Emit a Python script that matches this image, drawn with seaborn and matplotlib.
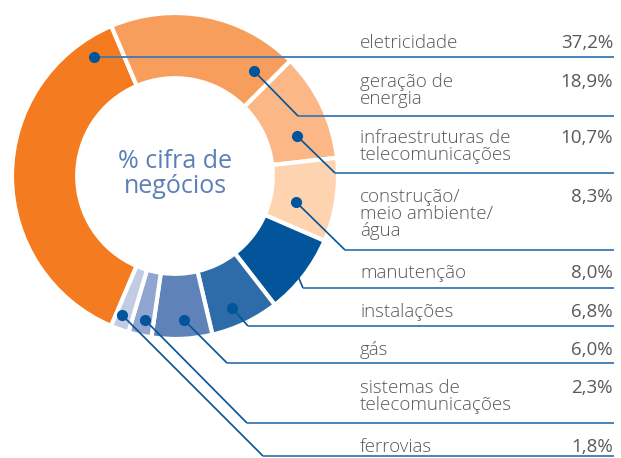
import matplotlib
matplotlib.use("Agg")
import matplotlib.pyplot as plt
import seaborn as sns

# ---- data ----
categories = ["eletricidade", "geração de\nenergia", "infraestruturas de\ntelecomunicações",
              "construção/\nmeio ambiente/\nágua", "manutenção", "instalações", "gás",
              "sistemas de\ntelecomunicações", "ferrovias"]
values = [37.2, 18.9, 10.7, 8.3, 8.0, 6.8, 6.0, 2.3, 1.8]
value_labels = ["37,2%", "18,9%", "10,7%", "8,3%", "8,0%", "6,8%", "6,0%", "2,3%", "1,8%"]
colors = ["#F47B20", "#F89E5C", "#FBB785", "#FDD3B0", "#02559A",
          "#2E6BA9", "#5F83B8", "#90A5CF", "#C1CBE4"]
center_title = "% cifra de\nnegócios"

# ---- layout (pixel coordinates, y from top) ----
W, H = 621, 458
cx, cy, R = 175, 176, 163
ring = 0.40
dots = [(94, 57), (254, 71), (297, 136), (296, 202), (292, 262), (232, 308), (184, 320), (145, 320), (122, 315)]
bends = [(94, 57), (298, 116), (335, 173), (345, 250), (303, 288), (248, 326), (227, 363), (247, 423), (263, 456)]
line_y = [57, 116, 173, 250, 288, 326, 363, 423, 456]
baselines = [48, 87, 143, 202, 278, 317, 355, 393, 452]
line_step = 17

sns.set_theme(style="white")
plt.rcParams["font.family"] = ["Open Sans", "DejaVu Sans"]

fig = plt.figure(figsize=(W / 100, H / 100), dpi=100)
ax = fig.add_axes([0, 0, 1, 1])

def Y(y):
    return H - y

ax.pie(values, colors=colors, startangle=113 + values[0] * 3.6, counterclock=False,
       radius=R, center=(cx, Y(cy)),
       wedgeprops=dict(width=R * ring, edgecolor="white", linewidth=3))

ax.set_xlim(0, W)
ax.set_ylim(0, H)
ax.set_aspect("equal")
ax.axis("off")

ax.text(cx, Y(174), center_title, ha="center", va="center", fontsize=18,
        color="#5B80B8", linespacing=1.05)

lead_col = "#02559A"
sep_col = "#3F78B2"
text_col = "#58595B"
for i in range(len(values)):
    dx, dy = dots[i]
    bx, by = bends[i]
    ly = line_y[i]
    ax.plot([dx, bx], [Y(dy), Y(by)], color=lead_col, lw=1.2,
            solid_capstyle="butt", zorder=3)
    ax.plot([bx, 614], [Y(by), Y(ly)], color=sep_col, lw=1.3,
            solid_capstyle="butt", zorder=3)
    ax.plot([dx], [Y(dy)], "o", color=lead_col, ms=7, zorder=4)
    for k, part in enumerate(categories[i].split("\n")):
        ax.text(360, Y(baselines[i] + k * line_step), part, ha="left", va="baseline",
                fontsize=13.5, color=text_col, fontweight="light")
    ax.text(613, Y(baselines[i]), value_labels[i], ha="right", va="baseline",
            fontsize=13.5, color=text_col)

fig.savefig("out.png", dpi=100, facecolor="white")
